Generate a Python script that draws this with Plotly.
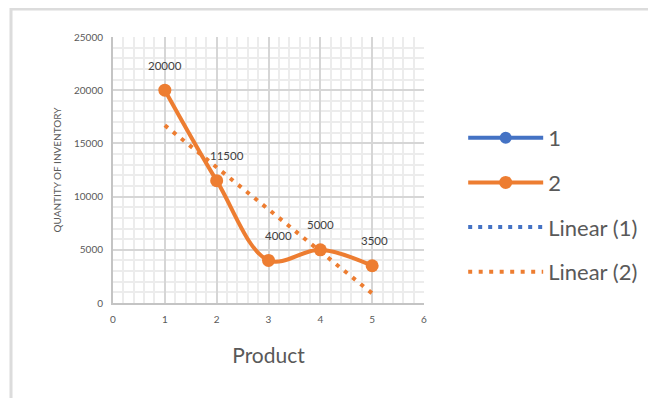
import numpy as np
import plotly.graph_objects as go

# ---- data ----
products = [1, 2, 3, 4, 5]
series2 = [20000, 11500, 4000, 5000, 3500]
labels2 = ["20000", "11500", "4000", "5000", "3500"]
x_ticks = [0, 1, 2, 3, 4, 5, 6]
y_ticks = [0, 5000, 10000, 15000, 20000, 25000]
y_ticktext = ["0", "5000", "10000", "15000", "20000", "25000"]

ORANGE = "#ED7D31"
BLUE = "#4472C4"
GREY_TXT = "#595959"
FONT = "Lato, 'Liberation Sans', Arial, sans-serif"

# linear trendline (least squares fit, as Excel does)
slope, intercept = np.polyfit(products, series2, 1)
trend_x = [products[0], products[-1]]
trend_y = [slope * v + intercept for v in trend_x]

# page has an 8px body margin: figure is drawn from (8,8)
W, H = 648, 390
L, T = 105, 29
PW, PH = 311, 266
R = W - L - PW
B = H - T - PH

fig = go.Figure()

fig.add_trace(go.Scatter(
    x=[None], y=[None], name="1", mode="lines+markers",
    line=dict(color=BLUE, width=4), marker=dict(size=12, color=BLUE),
    legendgroup="g1"))
fig.add_trace(go.Scatter(
    x=products, y=series2, name="2", mode="lines+markers",
    line=dict(color=ORANGE, width=4, shape="spline", smoothing=1),
    marker=dict(size=13, color=ORANGE), legendgroup="g2"))
fig.add_trace(go.Scatter(
    x=[None], y=[None], name="Linear (1)", mode="lines",
    line=dict(color=BLUE, width=4, dash="4px,6px"), legendgroup="g3"))
fig.add_trace(go.Scatter(
    x=trend_x, y=trend_y, name="Linear (2)", mode="lines",
    line=dict(color=ORANGE, width=4, dash="4px,6.5px"), legendgroup="g4"))

xshifts = [0, 10, 10, 0, 2]
for xv, yv, t, xs in zip(products, series2, labels2, xshifts):
    fig.add_annotation(x=xv, y=yv, text=t, showarrow=False, xshift=xs, yshift=25,
                       font=dict(size=11.5, color="#404040", family=FONT))

# outer chart frame (left edge at page x=11, top edge at page y=9)
fig.add_shape(type="rect", xref="paper", yref="paper",
              x0=(11 - 8 - L) / PW, x1=1.9, y0=-0.5, y1=(T + PH - (9 - 8)) / PH,
              line=dict(color="#dcdcdc", width=3), fillcolor="rgba(0,0,0,0)", layer="below")

axis_common = dict(
    showgrid=True, gridcolor="#d6d6d6", gridwidth=1.5,
    showline=True, linecolor="#c4c4c4", linewidth=2,
    zeroline=False, ticks="outside", tickcolor="rgba(0,0,0,0)",
    tickfont=dict(size=10, color=GREY_TXT, family=FONT),
)

fig.update_xaxes(range=[0, 6], tickvals=x_ticks, ticklen=6,
                 minor=dict(dtick=0.2, showgrid=True, gridcolor="#ececec", gridwidth=1.5),
                 title=dict(text="Product", font=dict(size=21, color=GREY_TXT, family=FONT), standoff=24),
                 **axis_common)
fig.update_yaxes(range=[0, 25000], tickvals=y_ticks, ticktext=y_ticktext, ticklen=6,
                 minor=dict(dtick=1000, showgrid=True, gridcolor="#ececec", gridwidth=1.5),
                 title=dict(text="QUANTITY OF INVENTORY", font=dict(size=10, color=GREY_TXT, family=FONT), standoff=10),
                 **axis_common)

fig.update_layout(
    width=W, height=H,
    margin=dict(l=L, r=R, t=T, b=B),
    paper_bgcolor="white", plot_bgcolor="white",
    font=dict(family=FONT, color=GREY_TXT),
    legend=dict(x=1.126, y=0.699, xanchor="left", yanchor="top",
                font=dict(size=22, color=GREY_TXT, family=FONT),
                tracegroupgap=13, itemwidth=75, bgcolor="rgba(0,0,0,0)"),
    showlegend=True,
)

fig.write_html("out.html")
